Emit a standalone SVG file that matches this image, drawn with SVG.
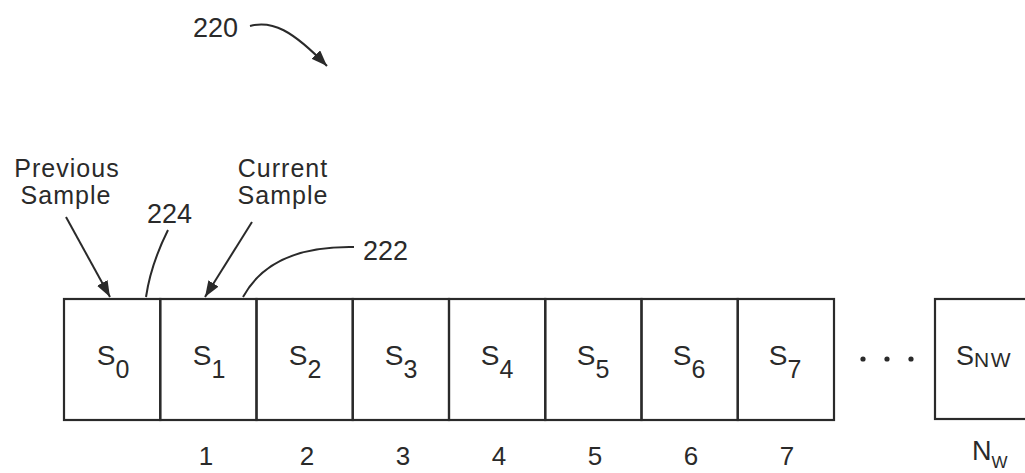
<svg xmlns="http://www.w3.org/2000/svg" width="1025" height="473" viewBox="0 0 1025 473">
<style>
  text { font-family: "Liberation Sans", Arial, sans-serif; fill: #2a2a2a; }
  .lbl { font-size: 27px; }
  .two { font-size: 25px; letter-spacing: 1px; text-anchor: middle; }
  .cellS { font-size: 28px; text-anchor: middle; }
  .sub { font-size: 25px; }
  .num { font-size: 26px; text-anchor: middle; }
  .cell { fill: none; stroke: #2a2a2a; stroke-width: 2.2; }
  .lead { fill: none; stroke: #2a2a2a; stroke-width: 2; }
  .dot { fill: #2a2a2a; }
</style>
<defs>
  <marker id="ah" markerUnits="userSpaceOnUse" markerWidth="18" markerHeight="14" refX="16" refY="6" orient="auto">
    <path d="M0,0 L16,6 L0,12 Z" fill="#2a2a2a"/>
  </marker>
</defs>
<rect width="1025" height="473" fill="#ffffff"/>

<g id="title">
  <text class="lbl" x="193" y="37">220</text>
</g>

<g id="cell0"><rect class="cell" x="64" y="299" width="96.25" height="121"/><text class="cellS" x="113" y="365">S<tspan class="sub" dy="13">0</tspan></text></g>
<g id="cell1"><rect class="cell" x="160.25" y="299" width="96.25" height="121"/><text class="cellS" x="209" y="365">S<tspan class="sub" dy="13">1</tspan></text><text class="num" x="206" y="465">1</text></g>
<g id="cell2"><rect class="cell" x="256.5" y="299" width="96.25" height="121"/><text class="cellS" x="305" y="365">S<tspan class="sub" dy="13">2</tspan></text><text class="num" x="307" y="465">2</text></g>
<g id="cell3"><rect class="cell" x="352.75" y="299" width="96.25" height="121"/><text class="cellS" x="401" y="365">S<tspan class="sub" dy="13">3</tspan></text><text class="num" x="403" y="465">3</text></g>
<g id="cell4"><rect class="cell" x="449" y="299" width="96.25" height="121"/><text class="cellS" x="497" y="365">S<tspan class="sub" dy="13">4</tspan></text><text class="num" x="499" y="465">4</text></g>
<g id="cell5"><rect class="cell" x="545.25" y="299" width="96.25" height="121"/><text class="cellS" x="593" y="365">S<tspan class="sub" dy="13">5</tspan></text><text class="num" x="595" y="465">5</text></g>
<g id="cell6"><rect class="cell" x="641.5" y="299" width="96.25" height="121"/><text class="cellS" x="689" y="365">S<tspan class="sub" dy="13">6</tspan></text><text class="num" x="691" y="465">6</text></g>
<g id="cell7"><rect class="cell" x="737.75" y="299" width="96.25" height="121"/><text class="cellS" x="785" y="365">S<tspan class="sub" dy="13">7</tspan></text><text class="num" x="787" y="465">7</text></g>

<g id="ellipsis">
  <circle class="dot" cx="863" cy="359" r="2.6"/>
  <circle class="dot" cx="887" cy="359" r="2.6"/>
  <circle class="dot" cx="911" cy="359" r="2.6"/>
</g>

<g id="cellNW">
  <rect class="cell" x="935" y="299" width="100" height="120"/>
  <text class="lbl" x="956" y="365">S<tspan font-size="21" dy="2" letter-spacing="1.5">NW</tspan></text>
  <text class="lbl" x="972" y="460" font-size="25">N<tspan font-size="17" dy="8">W</tspan></text>
</g>

<g id="label-previous">
  <text class="two" x="67" y="177">Previous</text>
  <text class="two" x="66" y="204">Sample</text>
</g>
<g id="label-current">
  <text class="two" x="283" y="177">Current</text>
  <text class="two" x="283" y="204">Sample</text>
</g>
<g id="label-224"><text class="lbl" x="147" y="223">224</text></g>
<g id="label-222"><text class="lbl" x="363" y="260">222</text></g>

<g id="connectors">
  <path class="lead" d="M250,26 C272,20 292,30 327,66" marker-end="url(#ah)"/>
  <path class="lead" d="M66,217 L110,297" marker-end="url(#ah)"/>
  <path class="lead" d="M252,222 L205,297" marker-end="url(#ah)"/>
  <path class="lead" d="M168,230 C158,250 150,270 146,297"/>
  <path class="lead" d="M354,247 C300,246 262,262 243,297"/>
</g>
</svg>
